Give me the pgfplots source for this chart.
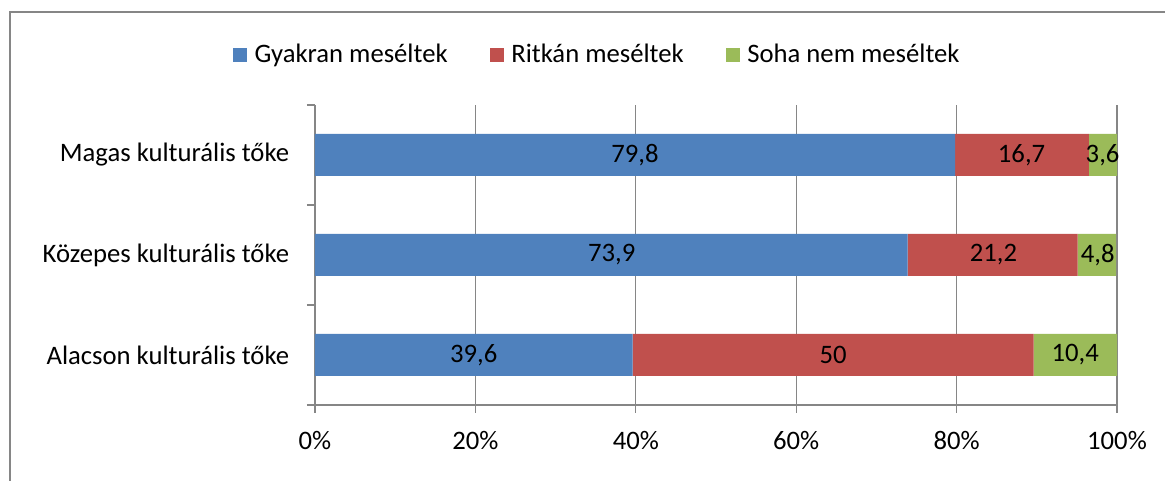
\documentclass[border=0pt]{standalone}
\usepackage{fontspec}
\setmainfont{Carlito}
\usepackage{pgfplots}
\usepackage{pgfplotstable}
\pgfplotsset{compat=1.18}
\definecolor{cblue}{HTML}{4F81BD}
\definecolor{cred}{HTML}{C0504D}
\definecolor{cgreen}{HTML}{9BBB59}
\definecolor{cgrid}{HTML}{868686}

\pgfplotstableread{
y gy ri so
0 39.6 50 10.4
1 73.9 21.2 4.8
2 79.8 16.7 3.6
}\data

\pgfplotstableread{
x y lab
19.8 0 39,6
64.6 0 50
94.8 0 10,4
37.0 1 73,9
84.6 1 21,2
97.6 1 4,8
39.9 2 79,8
88.1 2 16,7
98.2 2 3,6
}\labels

\begin{document}
\begin{tikzpicture}[font=\fontsize{16}{19}\selectfont]
\path[use as bounding box] (0,0) rectangle (699pt,288.6pt);
\draw[cgrid, line width=1.5pt] (6pt,0) -- (6pt,281.4pt) -- (699pt,281.4pt);
\begin{axis}[
  at={(189pt,45.6pt)}, anchor=south west,
  scale only axis, width=481.2pt, height=180pt,
  xbar stacked, bar width=25.2pt,
  xmin=0, xmax=100, ymin=-0.5, ymax=2.5,
  axis x line*=bottom, axis y line*=left,
  axis line style={cgrid, line width=0.75pt},
  tick style={cgrid, line width=0.75pt},
  tick align=outside, major tick length=4.8pt,
  xtick={0,20,40,60,80,100},
  xticklabels={0\%,20\%,40\%,60\%,80\%,100\%},
  xticklabel style={yshift=-7.2pt},
  ytick={-0.5,0.5,1.5,2.5},
  yticklabels={Alacson kulturális tőke,Közepes kulturális tőke,Magas kulturális tőke,{}},
  yticklabel style={yshift=30pt, xshift=-7.2pt},
  xmajorgrids, major grid style={cgrid, line width=0.75pt},
  legend style={at={(0.353,1.167)}, anchor=center, draw=none, fill=none,
    legend columns=3,
    /tikz/every even column/.append style={column sep=23.4pt},
    /tikz/every odd column/.append style={column sep=2.4pt}},
  legend cell align=left,
]
\addplot[fill=cblue, draw=none, legend image code/.code={\fill[cblue] (0pt,-4.2pt) rectangle (8.4pt,4.2pt);}] table[x=gy,y=y] {\data};
\addlegendentry{Gyakran meséltek}
\addplot[fill=cred, draw=none, legend image code/.code={\fill[cred] (0pt,-4.2pt) rectangle (8.4pt,4.2pt);}] table[x=ri,y=y] {\data};
\addlegendentry{Ritkán meséltek}
\addplot[fill=cgreen, draw=none, legend image code/.code={\fill[cgreen] (0pt,-4.2pt) rectangle (8.4pt,4.2pt);}] table[x=so,y=y] {\data};
\addlegendentry{Soha nem meséltek}
\end{axis}
\begin{axis}[
  at={(189pt,45.6pt)}, anchor=south west,
  scale only axis, width=481.2pt, height=180pt,
  xmin=0, xmax=100, ymin=-0.5, ymax=2.5,
  hide axis,
]
\addplot[draw=none, mark=none, nodes near coords, point meta=explicit symbolic,
  nodes near coords align=center] table[x=x,y=y,meta=lab] {\labels};
\end{axis}
\end{tikzpicture}
\end{document}
